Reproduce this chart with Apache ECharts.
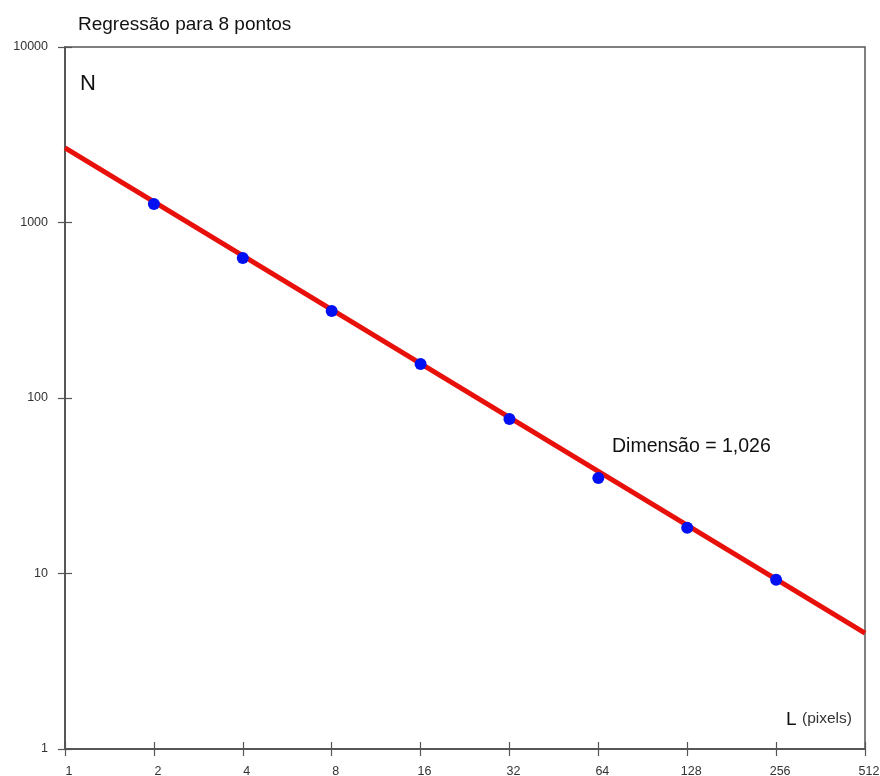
<!DOCTYPE html>
<html>
<head>
<meta charset="utf-8">
<script src="https://cdn.jsdelivr.net/npm/echarts@6/dist/echarts.min.js"></script>
<style>html,body{margin:0;padding:0;background:#fff;}#c{width:880px;height:776px;}</style>
</head>
<body>
<div id="c"></div>
<script>
// Data
const pointL = [2, 4, 8, 16, 32, 64, 128, 256];
const pointN = [1275, 628, 313, 156, 76, 35, 18.2, 9.2];
const lineL = [1, 512];
const lineN = [2660, 4.58];
const xTicks = [1, 2, 4, 8, 16, 32, 64, 128, 256, 512];
const yTicks = [1, 10, 100, 1000, 10000];
const titleText = 'Regressão para 8 pontos';
const dimText = 'Dimensão = 1,026';

const font = '"Liberation Sans", Arial, sans-serif';
const axisColor = '#555';
const chart = echarts.init(document.getElementById('c'));

const baseX = {
  type: 'log', logBase: 2, min: xTicks[0], max: xTicks[xTicks.length - 1],
  axisLine: { show: true, lineStyle: { color: axisColor, width: 1.5 } },
  splitLine: { show: false }, minorTick: { show: false }
};
const baseY = {
  type: 'log', logBase: 10, min: yTicks[0], max: yTicks[yTicks.length - 1],
  axisLine: { show: true, lineStyle: { color: axisColor, width: 1.5 } },
  splitLine: { show: false }, minorTick: { show: false }
};

chart.setOption({
  backgroundColor: '#fff',
  animation: false,
  title: {
    text: titleText, left: 73, top: 10,
    textStyle: { fontFamily: font, fontSize: 19, fontWeight: 'normal', color: '#111' }
  },
  grid: { left: 65, right: 15, top: 47, bottom: 27, show: true, borderColor: axisColor, borderWidth: 1.5,
    containLabel: false, outerBoundsMode: 'none' },
  xAxis: [
    Object.assign({}, baseX, {
      axisTick: { show: true, inside: false, length: 7, lineStyle: { color: axisColor, width: 1.2 } },
      axisLabel: { show: true, margin: 16, color: '#333', fontFamily: font, fontSize: 12.5,
        padding: [0, 0, 0, 8], hideOverlap: false,
        formatter: v => String(Math.round(v)) }
    }),
    Object.assign({}, baseX, {
      axisTick: { show: true, inside: true, length: 7, lineStyle: { color: axisColor, width: 1.2 } },
      axisLabel: { show: false }, position: 'bottom'
    })
  ],
  yAxis: [
    Object.assign({}, baseY, {
      axisTick: { show: true, inside: false, length: 7, lineStyle: { color: axisColor, width: 1.2 } },
      axisLabel: { show: true, margin: 17, color: '#333', fontFamily: font, fontSize: 12.5,
        formatter: v => String(Math.round(v)) }
    }),
    Object.assign({}, baseY, {
      axisTick: { show: true, inside: true, length: 7, lineStyle: { color: axisColor, width: 1.2 } },
      axisLabel: { show: false }, position: 'left'
    })
  ],
  series: [
    {
      type: 'line', xAxisIndex: 0, yAxisIndex: 0,
      data: lineL.map((l, i) => [l, lineN[i]]),
      symbol: 'none', lineStyle: { color: '#e8100a', width: 5 }, z: 2
    },
    {
      type: 'scatter', xAxisIndex: 0, yAxisIndex: 0,
      data: pointL.map((l, i) => [l, pointN[i]]),
      symbol: 'circle', symbolSize: 12, itemStyle: { color: '#0010f0', opacity: 1 }, z: 3
    }
  ],
  graphic: [
    { type: 'text', left: 80, top: 73, style: { text: 'N', fontFamily: font, fontSize: 22, fill: '#111' } },
    { type: 'text', left: 612, top: 437, style: { text: dimText, fontFamily: font, fontSize: 19.5, fill: '#111' } },
    { type: 'text', left: 786, top: 710, style: { text: 'L', fontFamily: font, fontSize: 19, fill: '#111' } },
    { type: 'text', left: 802, top: 711, style: { text: '(pixels)', fontFamily: font, fontSize: 15.5, fill: '#333' } }
  ]
});
</script>
</body>
</html>
